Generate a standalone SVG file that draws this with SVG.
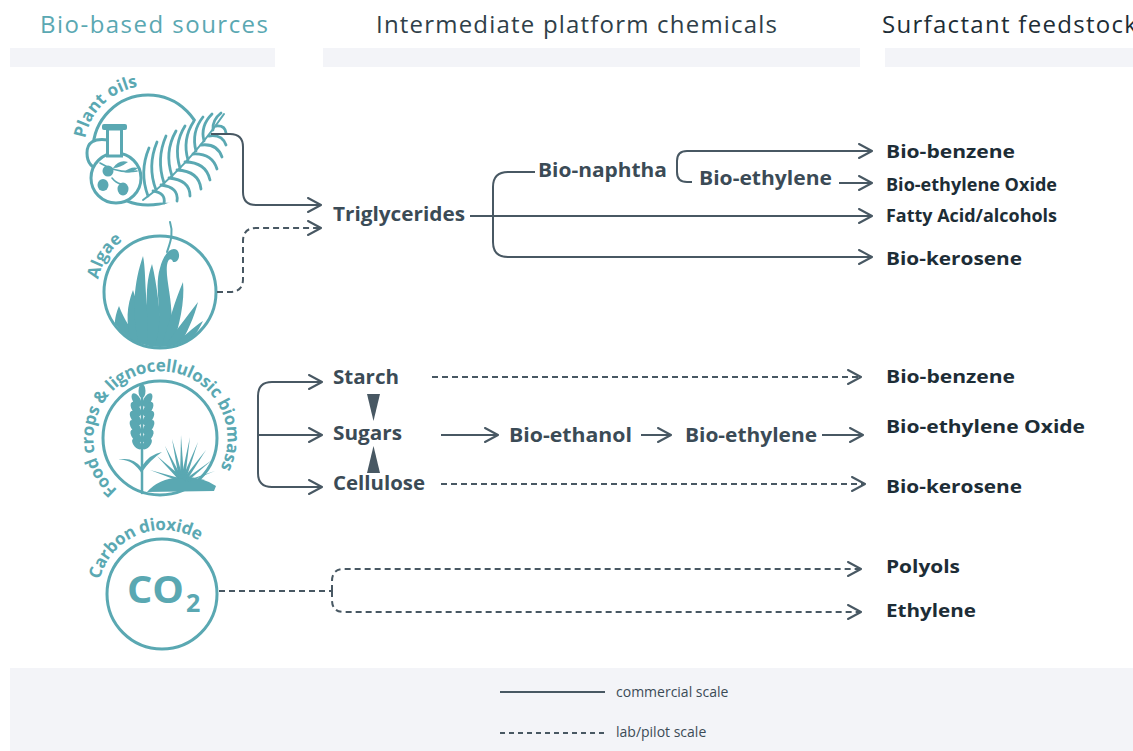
<svg xmlns="http://www.w3.org/2000/svg" width="1133" height="751" viewBox="0 0 1133 751">
<defs>
<style>
.hdr{font-family:"Open Sans","Liberation Sans",sans-serif;font-size:24px;font-weight:400}
.mid{font-family:"Open Sans","Liberation Sans",sans-serif;font-size:19px;font-weight:700;fill:#3b4b56}
.out{font-family:"Open Sans","Liberation Sans",sans-serif;font-size:18px;font-weight:700;fill:#1d2d36}
.lbl{font-family:"Open Sans","Liberation Sans",sans-serif;font-size:17px;font-weight:700;fill:#5aa8b2}
.leg{font-family:"Open Sans","Liberation Sans",sans-serif;font-size:14px;font-weight:400;fill:#3b4b56}
.bar{fill:#f3f4f8}
.ring{fill:none;stroke:#5aa8b2;stroke-width:3}
.tf{fill:#5aa8b2}
.ts{fill:none;stroke:#5aa8b2;stroke-linecap:round}
.c{fill:none;stroke:#485863;stroke-width:2}
.ca{fill:none;stroke:#485863;stroke-width:2;marker-end:url(#arr)}
.d{stroke-dasharray:6 4}
</style>
<marker id="arr" viewBox="0 0 16 16" refX="14" refY="8" markerWidth="16" markerHeight="16" markerUnits="userSpaceOnUse" orient="auto">
<path d="M1,1 L14,8 L1,15" fill="none" stroke="#485863" stroke-width="2" stroke-linecap="round" stroke-linejoin="round"/>
</marker>
<clipPath id="algClip"><circle cx="160" cy="292" r="55"/></clipPath>
<path id="arcPlant" d="M85.2,138.6 A64,64 0 0 1 145.8,86.04"/>
<path id="arcAlgae" d="M98.2,279.4 A64,64 0 0 1 138.1,231.9"/>
<path id="arcFood" d="M117.6,489.9 A67,67 0 1 1 217.9,472.6"/>
<path id="arcCO2" d="M99.8,579.5 A65,65 0 0 1 202.8,543.7"/>
</defs>

<rect width="1133" height="751" fill="#ffffff"/>

<g id="headers">
<rect class="bar" x="10" y="48" width="265" height="19"/>
<rect class="bar" x="323" y="48" width="537" height="19"/>
<rect class="bar" x="885" y="48" width="248" height="19"/>
<text class="hdr" x="40" y="33" fill="#5aa8b2" textLength="228" lengthAdjust="spacing">Bio-based sources</text>
<text class="hdr" x="376" y="33" fill="#2f3f49" textLength="401" lengthAdjust="spacing">Intermediate platform chemicals</text>
<text class="hdr" x="882" y="33" fill="#1d2d36" letter-spacing="1.3">Surfactant feedstock</text>
</g>

<g id="legend">
<rect class="bar" x="10" y="668" width="1123" height="83"/>
<line class="c" x1="500" y1="692" x2="605" y2="692"/>
<line class="c" x1="500" y1="733" x2="605" y2="733" style="stroke-dasharray:5 4"/>
<text class="leg" x="616" y="697">commercial scale</text>
<text class="leg" x="616" y="737">lab/pilot scale</text>
</g>

<g id="plant-oils">
<circle class="ring" cx="148" cy="150" r="55"/>
<path d="M108,140 Q87,137 87,153 Q87,168 102,170" fill="#fff" stroke="#5aa8b2" stroke-width="3"/>
<circle cx="116" cy="178" r="25" fill="#fff" stroke="#5aa8b2" stroke-width="3"/>
<rect x="107.5" y="129" width="14" height="27" fill="#fff" stroke="#5aa8b2" stroke-width="3"/>
<rect x="102" y="124" width="25" height="6" rx="2" class="tf"/>
<path class="ts" stroke-width="1.6" d="M100,163 Q118,174 137,171"/>
<path class="tf" d="M113,168 Q119,159 128,162 Q120,168 113,168 Z"/>
<path class="tf" d="M124,172 Q131,166 138,168 Q131,174 124,172 Z"/>
<ellipse class="tf" cx="108" cy="171" rx="5.5" ry="5.5"/>
<ellipse class="tf" cx="103" cy="185" rx="5.5" ry="6"/>
<ellipse class="tf" cx="123" cy="189" rx="5.5" ry="6.5"/>
<path class="ts" stroke-width="1.6" d="M112,178 Q116,183 121,184"/>
<path d="M143,202 L147,152 L157,143 L167,137 L178,131 L188,125 L200,118 L212,113 L224,112 L227,132 L227,146 L222,160 L216,172 L209,182 L199,191 L188,198 L174,203 Z" fill="#fff"/>
<g class="ts" stroke-width="2.8">
<path d="M143,200 Q185,170 224,114" stroke-width="2"/>
<path d="M148,196 Q139,172 149,148"/>
<path d="M156,190 Q147,166 157,142"/>
<path d="M164,183 Q156,159 166,136"/>
<path d="M172,176 Q164,152 176,131"/>
<path d="M180,168 Q173,145 185,126"/>
<path d="M188,160 Q182,139 194,121"/>
<path d="M196,151 Q191,132 203,117"/>
<path d="M204,141 Q200,126 212,114"/>
<path d="M213,130 Q212,120 221,113"/>
<path d="M216,126 Q225,125 226,133"/>
<path d="M209,136 Q222,134 226,145"/>
<path d="M201,145 Q217,143 222,157"/>
<path d="M193,154 Q212,153 217,169"/>
<path d="M185,162 Q206,162 210,180"/>
<path d="M177,170 Q199,171 201,189"/>
<path d="M169,178 Q190,180 190,196"/>
<path d="M161,185 Q179,187 177,201"/>
<path d="M153,191 Q166,193 164,203"/>
</g>
<text class="lbl"><textPath href="#arcPlant">Plant oils</textPath></text>
</g>

<g id="algae">
<circle class="ring" cx="160" cy="292" r="56"/>
<g clip-path="url(#algClip)" class="tf">
<ellipse cx="160" cy="348" rx="42" ry="12"/>
<path d="M122,346 C112,332 114,318 119,306 C124,320 132,330 140,342 Z"/>
<path d="M132,345 C125,322 127,305 133,290 C138,305 141,322 147,342 Z"/>
<path d="M139,345 C131,312 134,282 143,256 C147,276 143,302 154,340 Z"/>
<path d="M147,345 C150,320 142,292 152,264 C157,284 160,312 162,340 Z"/>
<path d="M155,345 C165,318 153,290 160,268 C163,255 171,246 177,250 C181,254 179,263 173,262 C172,258 168,258 167,265 C165,282 176,306 170,345 Z"/>
<path d="M162,345 C169,322 175,300 183,282 C185,302 179,326 173,345 Z"/>
<path d="M166,345 C176,330 186,318 198,302 C194,318 187,333 178,348 Z"/>
<path d="M170,349 C182,338 192,328 203,321 C197,334 189,343 180,351 Z"/>
</g>
<path class="ts" stroke-width="2" d="M170,222 C174,234 170,243 167,252"/>
<text class="lbl"><textPath href="#arcAlgae">Algae</textPath></text>
</g>

<g id="food-crops">
<circle class="ring" cx="160" cy="438" r="57"/>
<path class="ts" stroke-width="2.5" d="M142,493 L142,398"/>
<g class="tf">
<ellipse cx="142" cy="391" rx="3.5" ry="7"/>
<ellipse cx="136.5" cy="400" rx="3.8" ry="7.5" transform="rotate(-30 136.5 400)"/>
<ellipse cx="147.5" cy="400" rx="3.8" ry="7.5" transform="rotate(30 147.5 400)"/>
<ellipse cx="136" cy="409" rx="4" ry="8" transform="rotate(-32 136 409)"/>
<ellipse cx="148" cy="409" rx="4" ry="8" transform="rotate(32 148 409)"/>
<ellipse cx="135.5" cy="418" rx="4.2" ry="8.2" transform="rotate(-34 135.5 418)"/>
<ellipse cx="148.5" cy="418" rx="4.2" ry="8.2" transform="rotate(34 148.5 418)"/>
<ellipse cx="135.5" cy="427" rx="4.2" ry="8.2" transform="rotate(-36 135.5 427)"/>
<ellipse cx="148.5" cy="427" rx="4.2" ry="8.2" transform="rotate(36 148.5 427)"/>
<ellipse cx="136" cy="436" rx="4" ry="7.5" transform="rotate(-38 136 436)"/>
<ellipse cx="148" cy="436" rx="4" ry="7.5" transform="rotate(38 148 436)"/>
<ellipse cx="137" cy="444" rx="3.4" ry="6.5" transform="rotate(-40 137 444)"/>
<ellipse cx="147" cy="444" rx="3.4" ry="6.5" transform="rotate(40 147 444)"/>
<path d="M142,468 Q132,456 118,460 Q132,458 142,474 Z"/>
<path d="M142,466 Q150,454 162,452 Q150,460 142,472 Z"/>
<path d="M147,492 Q158,479 180,477 Q202,476 216,486 L214,491 Z"/>
<path d="M178,479 L157,456 L183,478 Z"/>
<path d="M178,479 L165,446 L182,478 Z"/>
<path d="M179,479 L172,439 L183,478 Z"/>
<path d="M180,479 L181,435 L184,478 Z"/>
<path d="M181,479 L190,437 L185,479 Z"/>
<path d="M182,479 L198,442 L186,479 Z"/>
<path d="M183,479 L206,450 L187,480 Z"/>
<path d="M184,480 L212,460 L188,481 Z"/>
<path d="M185,481 L215,471 L188,482 Z"/>
<path d="M176,480 L150,470 L179,478 Z"/>
</g>
<text class="lbl" font-weight="600" font-size="16.5"><textPath href="#arcFood" textLength="300" lengthAdjust="spacing">Food crops &amp; lignocellulosic biomass</textPath></text>
</g>

<g id="co2">
<circle class="ring" cx="162" cy="594" r="55"/>
<text x="127" y="603" font-family="'Open Sans','Liberation Sans',sans-serif" font-weight="700" font-size="37" fill="#5aa8b2" textLength="57" lengthAdjust="spacingAndGlyphs">CO</text>
<text x="186" y="612" font-family="'Open Sans','Liberation Sans',sans-serif" font-weight="700" font-size="25" fill="#5aa8b2">2</text>
<text class="lbl" font-weight="600" font-size="16"><textPath href="#arcCO2" textLength="124" lengthAdjust="spacing">Carbon dioxide</textPath></text>
</g>

<g id="labels-mid">
<text class="mid" x="333" y="221" textLength="132" lengthAdjust="spacingAndGlyphs">Triglycerides</text>
<text class="mid" x="538" y="177" textLength="129" lengthAdjust="spacingAndGlyphs">Bio-naphtha</text>
<text class="mid" x="699" y="185" textLength="133" lengthAdjust="spacingAndGlyphs">Bio-ethylene</text>
<text class="mid" x="333" y="384" textLength="66" lengthAdjust="spacingAndGlyphs">Starch</text>
<text class="mid" x="333" y="440" textLength="69" lengthAdjust="spacingAndGlyphs">Sugars</text>
<text class="mid" x="333" y="490" textLength="92" lengthAdjust="spacingAndGlyphs">Cellulose</text>
<text class="mid" x="509" y="442" textLength="123" lengthAdjust="spacingAndGlyphs">Bio-ethanol</text>
<text class="mid" x="685" y="442" textLength="132" lengthAdjust="spacingAndGlyphs">Bio-ethylene</text>
</g>

<g id="labels-out">
<text class="out" x="886" y="158" textLength="129" lengthAdjust="spacingAndGlyphs">Bio-benzene</text>
<text class="out" x="886" y="191" textLength="171" lengthAdjust="spacingAndGlyphs">Bio-ethylene Oxide</text>
<text class="out" x="886" y="222" textLength="171" lengthAdjust="spacingAndGlyphs">Fatty Acid/alcohols</text>
<text class="out" x="886" y="265" textLength="136" lengthAdjust="spacingAndGlyphs">Bio-kerosene</text>
<text class="out" x="886" y="383" textLength="129" lengthAdjust="spacingAndGlyphs">Bio-benzene</text>
<text class="out" x="886" y="433" textLength="199" lengthAdjust="spacingAndGlyphs">Bio-ethylene Oxide</text>
<text class="out" x="886" y="493" textLength="136" lengthAdjust="spacingAndGlyphs">Bio-kerosene</text>
<text class="out" x="886" y="573" textLength="74" lengthAdjust="spacingAndGlyphs">Polyols</text>
<text class="out" x="886" y="617" textLength="90" lengthAdjust="spacingAndGlyphs">Ethylene</text>
</g>

<g id="connectors">
<path class="ca" d="M211,134 H230 Q243,134 243,147 V192 Q243,205 256,205 H321"/>
<path class="ca d" d="M217,292 H230 Q243,292 243,279 V241 Q243,228 256,228 H321"/>
<path class="ca" d="M470,216 H872"/>
<path class="c" d="M535,172 H508 Q493,172 493,187 V242 Q493,257 508,257 H860"/>
<path class="ca" d="M850,257 H872"/>
<path class="ca" d="M692,182 H687 Q677,182 677,172 V161 Q677,151 687,151 H872"/>
<path class="ca" d="M839,183 H872"/>
<path class="c" d="M322,382 H272 Q258,382 258,396 V473 Q258,487 272,487 H322"/>
<path class="ca" d="M300,382 H322"/>
<path class="ca" d="M300,487 H322"/>
<path class="ca" d="M258,435 H322"/>
<polygon points="367,394 380,394 373.5,421" fill="#485863"/>
<polygon points="367,473 380,473 373.5,446" fill="#485863"/>
<path class="ca d" d="M432,377 H861"/>
<path class="ca" d="M441,435 H498"/>
<path class="ca" d="M641,435 H671"/>
<path class="ca" d="M822,435 H863"/>
<path class="ca d" d="M441,484 H865"/>
<path class="c d" d="M219,591 H332"/>
<path class="ca d" d="M332,591 V581 Q332,569 344,569 H861"/>
<path class="ca d" d="M332,591 V600 Q332,612 344,612 H861"/>
</g>
</svg>
